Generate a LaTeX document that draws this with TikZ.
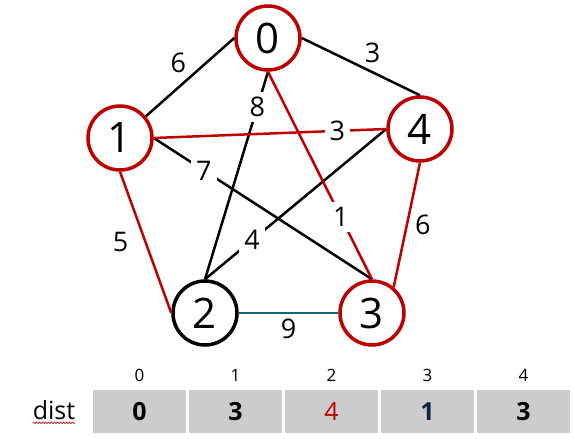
\documentclass[tikz,border=0pt]{standalone}
\usepackage{fontspec}
\setmainfont{Open Sans}
\usepackage{tikz}
\usetikzlibrary{positioning, decorations.pathmorphing}
\definecolor{myred}{RGB}{192,0,0}
\definecolor{myblue}{RGB}{20,98,128}
\definecolor{mynavy}{RGB}{18,38,64}
\definecolor{cellgray}{RGB}{204,204,204}
\tikzset{
  vertex/.style={circle, draw=myred, fill=white, line width=3.5pt,
    minimum size=64pt, inner sep=0pt, font=\fontsize{42}{44}\selectfont},
  startvertex/.style={vertex, draw=black},
  edge/.style={line width=2.5pt, color=black},
  rededge/.style={line width=2.5pt, color=myred},
  blueedge/.style={line width=2.5pt, color=myblue},
  wlabel/.style={font=\fontsize{27}{29}\selectfont, inner sep=2pt, text=black},
  cutlabel/.style={wlabel, fill=white, inner sep=5pt},
  cell/.style={rectangle, draw=white, fill=cellgray, line width=1.2pt,
    minimum width=94.8pt, minimum height=45pt, inner sep=0pt,
    font=\fontsize{25}{27}\selectfont\bfseries},
  idx/.style={font=\fontsize{17}{19}\selectfont, inner sep=0pt}
}
\begin{document}
\begin{tikzpicture}[x=1pt, y=-1pt]
  \useasboundingbox (0,0) rectangle (574,439);
  % Vertices
  \node[vertex] (n0) at (268,38) {0};
  \node[vertex] (n1) at (120,138) {1};
  \node[vertex] (n4) at (420,129) {4};
  \node[startvertex] (n2) at (205,313) {2};
  \node[vertex] (n3) at (372,313) {3};
  % Edges
  \draw[edge] (n0.west) -- (n1.40) node[wlabel, pos=0.5, above left=1pt] (w01) {6};
  \draw[edge] (n0.east) -- (n4.north) node[wlabel, pos=0.5, above right=1pt] (w04) {3};
  \draw[edge] (n0.south) -- (n2.north) node[cutlabel, pos=0.17] (w02) {8};
  \draw[edge] (n1.east) -- (n3.north) node[cutlabel, pos=0.23] (w13) {7};
  \draw[edge] (n4.west) -- (n2.north) node[cutlabel, pos=0.74] (w42) {4};
  \draw[rededge] (n0.south) -- (n3.north) node[cutlabel, pos=0.7] (w03) {1};
  \draw[rededge] (n1.east) -- (n4.west) node[cutlabel, pos=0.79] (w14) {3};
  \draw[rededge] (n1.south) -- (n2.west) node[wlabel, pos=0.5, left=14pt] (w12) {5};
  \draw[rededge] (n4.south) -- (n3.50) node[wlabel, pos=0.5, right=5pt] (w43) {6};
  \draw[blueedge] (n2.east) -- (n3.west) node[wlabel, pos=0.5, below=3pt] (w23) {9};
  % Table
  \node[cell] (c0) at (139.4,411.5) {0};
  \node[cell, right=0pt of c0] (c1) {3};
  \node[cell, right=0pt of c1, text=myred, font=\fontsize{25}{27}\selectfont] (c2) {4};
  \node[cell, right=0pt of c2, text=mynavy] (c3) {1};
  \node[cell, right=0pt of c3] (c4) {3};
  \foreach \i in {0,...,4}
    \node[idx] (i\i) at (c\i.center |- 0,375) {\i};
  \node[font=\fontsize{25}{27}\selectfont, inner sep=0pt] (dist) at (54,410) {dist};
  \draw[myred, line width=0.6pt, decorate,
    decoration={snake, amplitude=0.8pt, segment length=3pt}]
    ([yshift=-3pt]dist.south west) -- ([yshift=-3pt]dist.south east);
\end{tikzpicture}
\end{document}
